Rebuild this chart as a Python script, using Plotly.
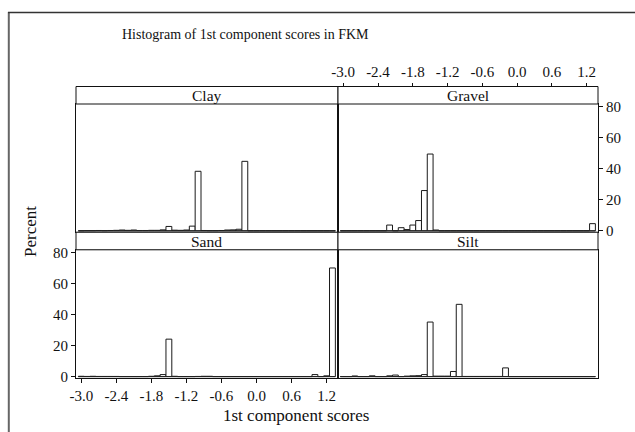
import plotly.graph_objects as go

# ---------------- data ----------------
bin_centers = [-3.0, -2.9, -2.8, -2.7, -2.6, -2.5, -2.4, -2.3, -2.2, -2.1,
               -2.0, -1.9, -1.8, -1.7, -1.6, -1.5, -1.4, -1.3, -1.2, -1.1,
               -1.0, -0.9, -0.8, -0.7, -0.6, -0.5, -0.4, -0.3, -0.2, -0.1,
               0.0, 0.1, 0.2, 0.3, 0.4, 0.5, 0.6, 0.7, 0.8, 0.9,
               1.0, 1.1, 1.2, 1.3]
bin_width = 0.1

clay_pct = [0, 0.1, 0.1, 0.2, 0.1, 0.2, 0.3, 0.5, 0.3, 0.5,
            0.2, 0.2, 0.3, 0.3, 0.6, 2.8, 0.4, 0.3, 0.5, 3.0,
            38.3, 0.2, 0.1, 0.1, 0.2, 0.5, 0.6, 1.0, 44.7, 0,
            0, 0, 0, 0, 0, 0, 0, 0, 0, 0,
            0, 0, 0, 0]
gravel_pct = [0, 0, 0, 0, 0, 0, 0, 0, 3.7, 0,
              2.0, 0.8, 3.7, 6.6, 25.9, 49.4, 0.5, 0, 0, 0,
              0, 0, 0, 0, 0, 0, 0, 0, 0, 0,
              0, 0, 0, 0, 0, 0, 0, 0, 0, 0,
              0, 0, 0, 4.6]
sand_pct = [0.2, 0.1, 0.2, 0.1, 0.1, 0.1, 0.1, 0, 0, 0,
            0, 0, 0.2, 0.5, 1.3, 24.1, 0.2, 0, 0, 0,
            0.1, 0.2, 0.2, 0, 0, 0, 0, 0, 0, 0,
            0, 0, 0, 0, 0, 0, 0, 0, 0, 0,
            1.3, 0, 0.5, 69.9]
silt_pct = [0, 0, 0.4, 0, 0, 0.5, 0, 0, 0.5, 1.0,
            0, 0.3, 0.5, 0.6, 1.3, 35.1, 0.3, 0.3, 0.3, 3.3,
            46.5, 0.1, 0.1, 0.1, 0.1, 0.1, 0.1, 0.1, 5.6, 0,
            0, 0, 0, 0, 0, 0, 0, 0, 0, 0,
            0, 0, 0, 0]

panel_names = ["Clay", "Gravel", "Sand", "Silt"]
x_tick_vals = [-3.0, -2.4, -1.8, -1.2, -0.6, 0.0, 0.6, 1.2]
x_tick_text = ["-3.0", "-2.4", "-1.8", "-1.2", "-0.6", "0.0", "0.6", "1.2"]
y_tick_vals = [0, 20, 40, 60, 80]
y_tick_text = ["0", "20", "40", "60", "80"]

title_text = "Histogram of 1st component scores in FKM"
x_title = "1st component scores"
y_title = "Percent"

# ---------------- layout geometry ----------------
W, H = 635, 432
def px(x):
    return x / W
def py(y):
    return 1 - y / H

XL = [px(76), px(338)]
XRd = [px(338), px(598)]
strip_top_t, strip_bot_t = 86.5, 104
panel_bot_t = 232.2
strip_bot_b = 249.8
panel_bot_b = 378
TOP = [py(panel_bot_t), py(strip_bot_t)]
BOT = [py(panel_bot_b), py(strip_bot_b)]

XRANGE = [-3.09, 1.395]
YRANGE = [-0.9, 81.6]

FONT = "Liberation Serif"
INK = "#111111"

fig = go.Figure()
series = [clay_pct, gravel_pct, sand_pct, silt_pct]
axes = [("x", "y"), ("x2", "y2"), ("x3", "y3"), ("x4", "y4")]
for vals, (xa, ya) in zip(series, axes):
    fig.add_trace(go.Bar(
        x=bin_centers, y=vals, width=bin_width,
        xaxis=xa, yaxis=ya, showlegend=False, hoverinfo="skip",
        marker=dict(color="white", line=dict(color="#1a1a1a", width=1)),
    ))
# dummy trace for the top tick axis
fig.add_trace(go.Scatter(x=[], y=[], xaxis="x5", yaxis="y2", showlegend=False))

shapes = []
edge_lo = bin_centers[0] - bin_width / 2
edge_hi = bin_centers[-1] + bin_width / 2
for xa, ya in axes:
    shapes.append(dict(type="line", xref=xa, yref=ya, x0=edge_lo, x1=edge_hi,
                       y0=0, y1=0, line=dict(color="#222222", width=1)))

strip_boxes = [
    (XL, [py(strip_bot_t), py(strip_top_t)]),
    (XRd, [py(strip_bot_t), py(strip_top_t)]),
    (XL, [py(strip_bot_b), py(panel_bot_t)]),
    (XRd, [py(strip_bot_b), py(panel_bot_t)]),
]
annotations = []
for name, (xd, yd) in zip(panel_names, strip_boxes):
    shapes.append(dict(type="rect", xref="paper", yref="paper",
                       x0=xd[0], x1=xd[1], y0=yd[0], y1=yd[1],
                       fillcolor="white", line=dict(color=INK, width=1), layer="above"))
    annotations.append(dict(text=name, xref="paper", yref="paper",
                            x=(xd[0] + xd[1]) / 2, y=(yd[0] + yd[1]) / 2,
                            xanchor="center", yanchor="middle", showarrow=False,
                            font=dict(family=FONT, size=15.5, color=INK)))

# outer frame (left and top edges visible)
shapes.append(dict(type="line", xref="paper", yref="paper", x0=px(8.8), x1=px(8.8),
                   y0=-0.05, y1=py(12), line=dict(color="#666666", width=2)))
shapes.append(dict(type="line", xref="paper", yref="paper", x0=px(8), x1=1.05,
                   y0=py(12.5), y1=py(12.5), line=dict(color="#333333", width=1.5)))

annotations.append(dict(text=title_text, xref="paper", yref="paper", x=px(120), y=py(34),
                        xanchor="left", yanchor="middle", showarrow=False,
                        font=dict(family=FONT, size=14, color=INK)))
annotations.append(dict(text=x_title, xref="paper", yref="paper", x=px(296), y=py(415),
                        xanchor="center", yanchor="middle", showarrow=False,
                        font=dict(family=FONT, size=17, color=INK)))
annotations.append(dict(text=y_title, xref="paper", yref="paper", x=px(30), y=py(232),
                        xanchor="center", yanchor="middle", showarrow=False, textangle=-90,
                        font=dict(family=FONT, size=17, color=INK)))

base_x = dict(range=XRANGE, showline=True, mirror=True, linecolor=INK, linewidth=1,
              showgrid=False, zeroline=False, ticks="", showticklabels=False,
              fixedrange=True, automargin=False)
base_y = dict(range=YRANGE, showline=True, mirror=True, linecolor=INK, linewidth=1,
              showgrid=False, zeroline=False, ticks="", showticklabels=False,
              fixedrange=True, automargin=False)
tick_font = dict(family=FONT, size=15, color=INK)
tick_x = dict(ticks="outside", ticklen=4, tickwidth=1, tickcolor=INK, showticklabels=True,
              tickmode="array", tickvals=x_tick_vals, ticktext=x_tick_text, tickfont=tick_font)
tick_y = dict(ticks="outside", ticklen=4, tickwidth=1, tickcolor=INK, showticklabels=True,
              tickmode="array", tickvals=y_tick_vals, ticktext=y_tick_text, tickfont=tick_font)

fig.update_layout(
    width=W, height=H, autosize=False, margin=dict(l=0, r=0, t=0, b=0, pad=0),
    paper_bgcolor="white", plot_bgcolor="white",
    font=dict(family=FONT, color=INK),
    xaxis=dict(base_x, domain=XL, anchor="y"),
    yaxis=dict(base_y, domain=TOP, anchor="x"),
    xaxis2=dict(base_x, domain=XRd, anchor="y2"),
    yaxis2=dict(base_y, **tick_y, domain=TOP, anchor="x2", side="right"),
    xaxis3=dict(base_x, **tick_x, domain=XL, anchor="y3"),
    yaxis3=dict(base_y, **tick_y, domain=BOT, anchor="x3", side="left"),
    xaxis4=dict(base_x, domain=XRd, anchor="y4"),
    yaxis4=dict(base_y, domain=BOT, anchor="x4"),
    xaxis5=dict(range=XRANGE, overlaying="x2", anchor="free", position=py(strip_top_t),
                side="top", showline=False, showgrid=False, zeroline=False, fixedrange=True,
                automargin=False, **tick_x),
    shapes=shapes, annotations=annotations,
)

fig.write_html(
    "out.html",
    config={"displayModeBar": False, "responsive": False},
    post_script="document.body.style.margin='0';document.body.style.overflow='hidden';",
)
